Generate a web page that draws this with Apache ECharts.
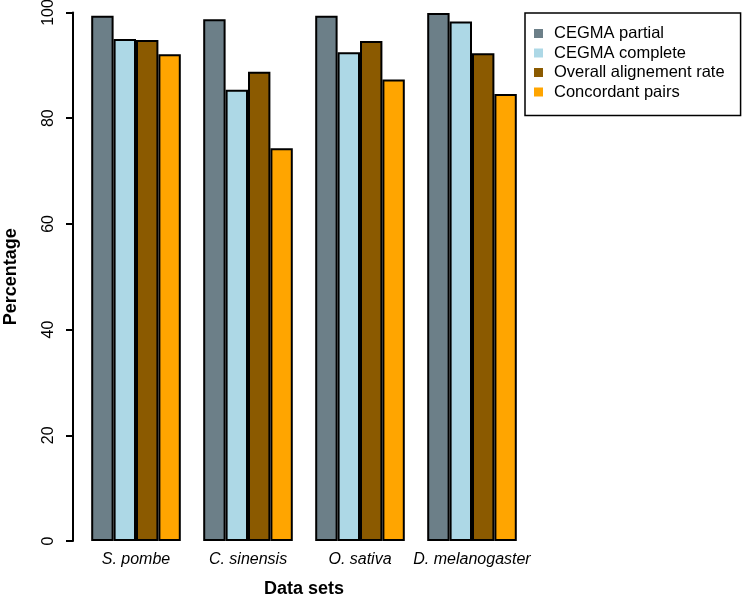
<!DOCTYPE html>
<html>
<head>
<meta charset="utf-8">
<script src="https://cdn.jsdelivr.net/npm/echarts@6/dist/echarts.min.js"></script>
<style>
html,body{margin:0;padding:0;background:#fff;}
#c{width:742px;height:595px;}
</style>
</head>
<body>
<div id="c"></div>
<script>
var categories = ['S. pombe', 'C. sinensis', 'O. sativa', 'D. melanogaster'];
var seriesNames = ['CEGMA partial', 'CEGMA complete', 'Overall alignement rate', 'Concordant pairs'];
var cegmaPartial = [99.4, 98.7, 99.4, 99.9];
var cegmaComplete = [95.0, 85.4, 92.5, 98.3];
var overallAlignment = [94.8, 88.8, 94.6, 92.3];
var concordantPairs = [92.1, 74.3, 87.3, 84.6];
var yTicks = [0, 20, 40, 60, 80, 100];

var colors = ['#6C7F88', '#ADD8E6', '#8B5A00', '#FFA500'];
var values = [cegmaPartial, cegmaComplete, overallAlignment, concordantPairs];
var FONT = '"Liberation Sans", Arial, Helvetica, sans-serif';

var chart = echarts.init(document.getElementById('c'), null, {renderer: 'canvas'});
var series = seriesNames.map(function (n, i) {
  return {
    name: n,
    type: 'bar',
    data: values[i],
    barGap: '0%',
    barCategoryGap: '20%',
    itemStyle: {color: colors[i], borderColor: '#000', borderWidth: 2},
    emphasis: {disabled: true},
    animation: false
  };
});

chart.setOption({
  animation: false,
  backgroundColor: '#fff',
  textStyle: {fontFamily: FONT},
  grid: {left: 80, right: 214, top: 12.5, bottom: 54, containLabel: false, outerBoundsMode: 'none'},
  legend: {
    data: seriesNames,
    orient: 'vertical',
    left: 525,
    top: 13,
    icon: 'rect',
    itemWidth: 9,
    itemHeight: 9,
    itemGap: 2.5,
    padding: [12, 16, 15, 9],
    borderColor: '#000',
    borderWidth: 1.5,
    borderRadius: 0,
    selectedMode: false,
    itemStyle: {borderWidth: 0},
    textStyle: {fontSize: 16.5, color: '#000', fontFamily: FONT, padding: [0, 0, 0, 6]}
  },
  xAxis: {
    type: 'category',
    data: categories,
    axisLine: {show: false},
    axisTick: {show: false},
    axisLabel: {fontSize: 16, fontStyle: 'italic', color: '#000', margin: 11, interval: 0, fontFamily: FONT},
    name: 'Data sets',
    nameLocation: 'middle',
    nameGap: 39,
    nameTextStyle: {fontSize: 18, fontWeight: 'bold', color: '#000', fontFamily: FONT}
  },
  yAxis: {
    type: 'value',
    min: 0,
    max: 100,
    interval: 20,
    offset: 7,
    splitLine: {show: false},
    axisLine: {show: true, lineStyle: {color: '#000', width: 2}},
    axisTick: {show: true, length: 7, lineStyle: {color: '#000', width: 2}},
    axisLabel: {fontSize: 16, color: '#000', rotate: 90, margin: 16, fontFamily: FONT,
      formatter: function (v) { return yTicks.indexOf(v) >= 0 ? String(v) : ''; }},
    name: 'Percentage',
    nameLocation: 'middle',
    nameGap: 53,
    nameRotate: 90,
    nameTextStyle: {fontSize: 18, fontWeight: 'bold', color: '#000', fontFamily: FONT}
  },
  series: series
});
</script>
</body>
</html>
